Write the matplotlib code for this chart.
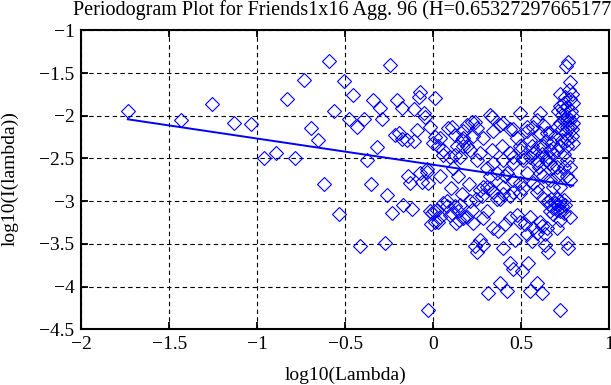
import matplotlib
matplotlib.use("Agg")
import matplotlib.pyplot as plt

# periodogram points: log10(lambda), log10(I(lambda))
log_lambda = [
    -1.736, -1.435, -1.259, -1.134, -1.037, -0.964, -0.894,
    -0.833, -0.784, -0.736, -0.693, -0.657, -0.621, -0.591, -0.563, -0.534,
    -0.507, -0.479, -0.458, -0.435, -0.415, -0.395, -0.375, -0.356, -0.341,
    -0.322, -0.301, -0.290, -0.273, -0.261, -0.246, -0.233, -0.216, -0.208,
    -0.197, -0.180, -0.180, -0.171, -0.151, -0.144, -0.132, -0.123, -0.110,
    -0.110, -0.094, -0.083, -0.076, -0.076, -0.066, -0.053, -0.045, -0.038,
    -0.038, -0.028, -0.028, -0.019, -0.018, -0.015, -0.009,
    0.000, 0.004, 0.008, 0.008, 0.009, 0.019, 0.028, 0.028, 0.038, 0.038,
    0.038, 0.057, 0.057, 0.057, 0.076, 0.076, 0.085, 0.095, 0.095, 0.105,
    0.105, 0.110, 0.123, 0.123, 0.123, 0.133, 0.142, 0.142, 0.148, 0.152,
    0.152, 0.161, 0.170, 0.170, 0.170, 0.170, 0.190, 0.190, 0.190,
    0.209, 0.209, 0.218, 0.227, 0.227, 0.237, 0.237, 0.247, 0.247, 0.247,
    0.265, 0.265, 0.265, 0.275, 0.284, 0.284, 0.284, 0.284, 0.303, 0.303,
    0.303, 0.312, 0.322, 0.322, 0.322, 0.332, 0.332, 0.341, 0.341, 0.341,
    0.341, 0.360, 0.360, 0.369, 0.379, 0.379, 0.379, 0.389, 0.398, 0.398,
    0.398, 0.398, 0.398,
    0.407, 0.407, 0.417, 0.417, 0.436, 0.436, 0.436, 0.436, 0.436, 0.455,
    0.455, 0.455, 0.455, 0.455, 0.455, 0.464, 0.474, 0.474, 0.493, 0.493,
    0.493, 0.493, 0.493, 0.493, 0.502, 0.511, 0.511, 0.511, 0.521, 0.531,
    0.531, 0.531, 0.531, 0.540, 0.549, 0.549, 0.549, 0.549, 0.559, 0.568,
    0.568, 0.568, 0.568, 0.588, 0.588, 0.588, 0.588, 0.588, 0.588, 0.588,
    0.606, 0.606, 0.606, 0.606, 0.606, 0.616, 0.616, 0.625, 0.625, 0.625,
    0.625, 0.635, 0.635, 0.644, 0.644, 0.644, 0.653, 0.653, 0.663, 0.663,
    0.663, 0.673, 0.682, 0.682, 0.692, 0.701, 0.701, 0.701, 0.701, 0.720,
    0.720, 0.720, 0.720, 0.720, 0.720, 0.720, 0.720, 0.730, 0.730, 0.739,
    0.748, 0.754, 0.758, 0.758, 0.758, 0.758, 0.758, 0.758, 0.758, 0.758,
    0.767, 0.767, 0.777, 0.777, 0.777, 0.777, 0.777, 0.777, 0.777, 0.786,
    0.786, 0.795, 0.795, 0.795,
    0.650, 0.660, 0.670, 0.680, 0.690, 0.700, 0.700, 0.710, 0.720, 0.720,
    0.730, 0.740, 0.740, 0.750, 0.680, 0.660,
    0.710, 0.740, 0.760, 0.780, 0.790, 0.750, 0.730, 0.790, 0.770, 0.740,
    0.560, 0.580, 0.620, 0.640, 0.660, 0.600, 0.680, 0.700, 0.740, 0.740,
    0.100, 0.160, 0.200, 0.240, 0.130, 0.220,
]
log_power = [
    -1.95, -2.05, -1.86, -2.09, -2.10, -2.49, -2.44,
    -1.80, -2.49, -1.58, -2.14, -2.29, -2.80, -1.36, -1.95, -3.15,
    -1.59, -2.04, -1.76, -2.13, -3.53, -2.04, -2.52, -2.80, -1.82,
    -2.37, -1.91, -2.04, -3.49, -2.93, -1.41, -3.14, -2.23, -1.82,
    -2.20, -1.91, -2.27, -3.05, -2.28, -2.70, -2.79, -3.09, -1.92,
    -2.30, -2.17, -1.78, -1.72, -2.67, -2.77, -1.97, -2.01, -2.66,
    -2.62, -4.27, -2.79, -3.12, -2.13, -3.27, -3.14,
    -2.32, -3.12, -1.79, -2.25, -3.24, -3.10, -2.36, -3.24, -2.26, -2.71,
    -3.18, -2.46, -2.40, -3.02, -3.00, -3.06, -2.14, -2.48, -3.16, -2.13,
    -3.14, -2.61, -2.46, -2.22, -3.06, -2.36, -2.70, -3.12, -3.22, -3.04,
    -2.48, -2.28, -2.26, -2.18, -2.36, -3.20, -2.36, -2.11, -3.18,
    -2.40, -3.00, -2.07, -2.24, -3.26, -2.07, -3.53, -2.14, -2.52, -3.59,
    -2.44, -2.87, -3.45, -2.94, -2.26, -2.83, -3.20, -3.51, -2.61, -2.83,
    -3.12, -4.08, -1.99, -2.71, -2.85, -2.01, -2.40, -2.18, -2.55, -2.89,
    -3.31, -2.67, -2.98, -3.35, -2.11, -2.98, -3.96, -2.36, -2.09, -2.52,
    -2.83, -2.92, -3.55,
    -2.71, -3.27, -2.67, -4.05, -2.16, -2.44, -2.94, -3.20, -3.72, -2.16,
    -2.48, -2.55, -2.75, -2.89, -3.80, -3.45, -2.26, -3.16, -1.97, -2.36,
    -2.40, -2.79, -2.90, -3.24, -3.82, -2.48, -2.52, -2.85, -3.27, -2.13,
    -2.18, -2.67, -3.39, -3.72, -2.28, -2.48, -3.18, -4.05, -3.47, -2.13,
    -2.44, -2.79, -3.31, -2.05, -2.52, -2.55, -2.83, -2.89, -3.37, -3.96,
    -1.97, -2.20, -2.36, -2.67, -3.24, -3.29, -4.07, -2.11, -2.36, -2.71,
    -2.96, -3.39, -3.51, -2.20, -2.52, -3.31, -2.48, -3.59, -2.20, -2.40,
    -2.75, -2.32, -2.60, -2.83, -2.24, -2.13, -2.40, -2.60, -3.31, -1.74,
    -1.89, -2.09, -2.36, -2.67, -2.83, -3.22, -4.28, -1.99, -2.28, -1.93,
    -1.78, -1.42, -2.01, -2.05, -2.13, -2.28, -2.36, -2.52, -2.71, -3.49,
    -1.37, -3.55, -1.60, -1.81, -2.05, -2.13, -2.60, -2.75, -3.18, -2.16,
    -2.24, -1.85, -2.09, -2.32,
    -3.00, -3.05, -2.98, -3.08, -3.02, -3.10, -2.97, -3.05, -3.12, -3.00,
    -3.06, -2.99, -3.14, -3.05, -3.15, -3.12,
    -1.95, -2.05, -1.90, -1.95, -2.00, -2.20, -2.15, -1.75, -1.70, -1.85,
    -2.35, -2.42, -2.45, -2.30, -2.55, -2.60, -2.45, -2.70, -2.45, -2.60,
    -2.85, -2.92, -2.80, -2.98, -3.25, -3.10,
]

# least squares fit shown as the line, slope = 1 - 2H
H = 0.65327297665177
fit_intercept = -2.574
fit_slope = 1 - 2 * H

title = "Periodogram Plot for Friends1x16 Agg. 96 (H=0.65327297665177)"
x_ticks = [-2, -1.5, -1, -0.5, 0, 0.5, 1]
y_ticks = [-4.5, -4, -3.5, -3, -2.5, -2, -1.5, -1]

plt.rcParams["font.family"] = ["Liberation Serif", "DejaVu Serif"]
plt.rcParams["font.size"] = 14

fig = plt.figure(figsize=(6.11, 3.85), dpi=100)
ax = fig.add_axes([0.1331, 0.1447, 0.8642, 0.7766])

ax.plot(log_lambda, log_power, linestyle="none", marker="D", markersize=7.3,
        markerfacecolor="none", markeredgecolor="blue", markeredgewidth=0.8)

x_lo, x_hi = min(log_lambda), max(log_lambda)
ax.plot([x_lo, x_hi],
        [fit_intercept + fit_slope * x_lo, fit_intercept + fit_slope * x_hi],
        color="blue", linewidth=1.4)

ax.set_xlim(-2, 1)
ax.set_ylim(-4.5, -1)
ax.set_xticks(x_ticks)
ax.set_yticks(y_ticks)
ax.set_xticklabels([f"{t:g}".replace("-", "\u2212") for t in x_ticks])
ax.set_yticklabels([f"{t:g}".replace("-", "\u2212") for t in y_ticks])
ax.grid(True, color="black", linestyle=(0, (4, 3)), linewidth=0.8)
ax.tick_params(direction="in", length=5, width=1.3, top=True, right=True,
               pad=5, labelsize=14)
for s in ax.spines.values():
    s.set_linewidth(1.5)

ax.set_title(title, pad=11, fontsize=14.5)
fig.text(0.565, 0.025, "log10(Lambda)", ha="center", va="center", fontsize=14)
fig.text(0.017, 0.535, "log10(I(lambda))", ha="center", va="center",
         rotation=90, fontsize=14)

fig.savefig("out.png", dpi=100)
